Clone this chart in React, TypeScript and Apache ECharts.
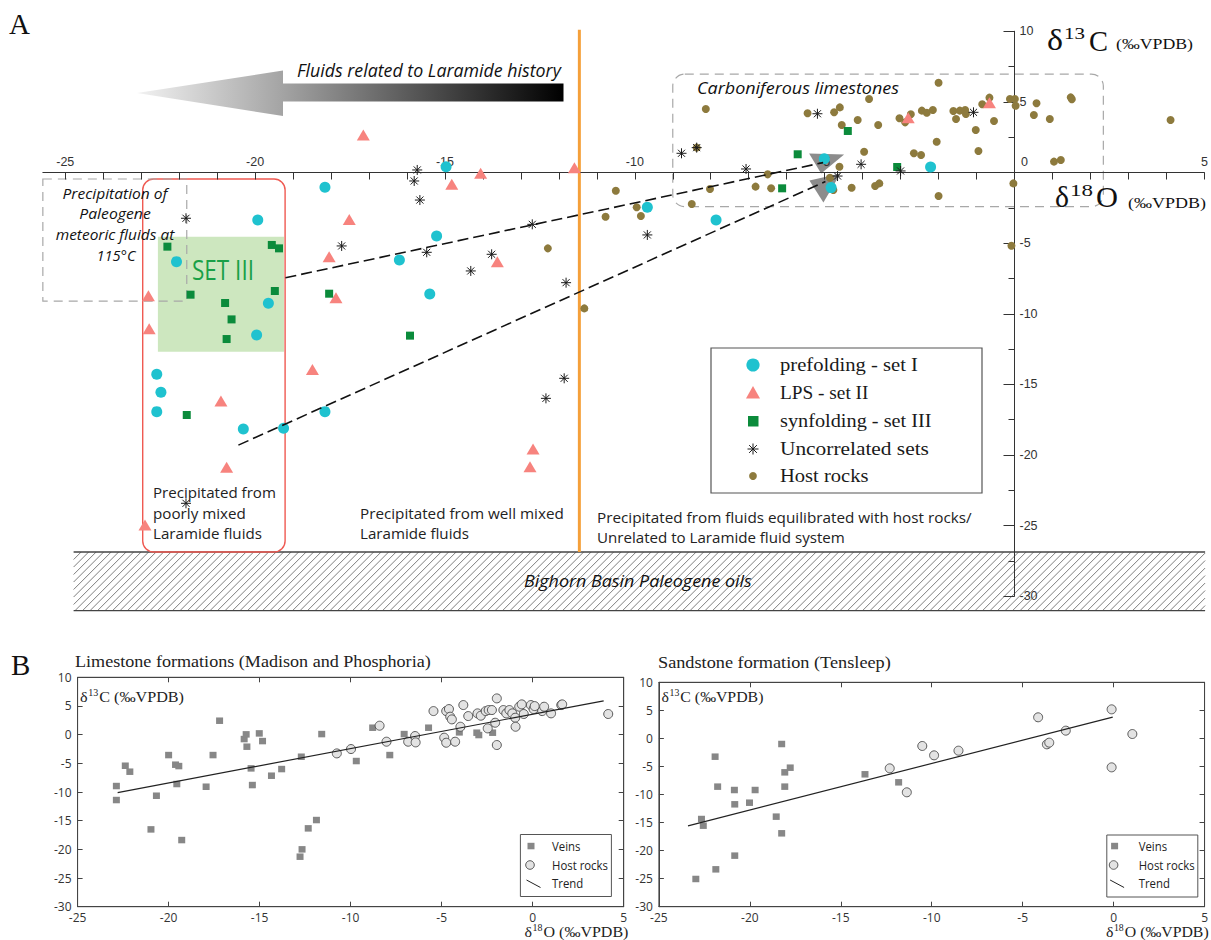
import React, { useEffect, useRef } from 'react';
import * as echarts from 'echarts';

// ---------------- Panel A data: [δ18O, δ13C] ----------------
const prefolding: number[][] = [
  [-18.16, -1.05], [-19.93, -3.36], [-22.07, -6.31], [-16.2, -6.19], [-19.65, -9.26], [-19.96, -11.5],
  [-15.4, -8.6], [-14.97, 0.41], [-15.22, -4.5], [-9.67, -2.46], [-22.59, -14.29], [-22.48, -15.56],
  [-22.59, -16.93], [-20.31, -18.16], [-19.25, -18.11], [-18.16, -16.93], [-5.01, 0.98], [-4.83, -1.07],
  [-2.21, 0.39], [-7.86, -3.36],
];
const lpsSet: number[][] = [
  [-17.15, 2.65], [-17.52, -3.32], [-18.05, -5.96], [-17.87, -8.86], [-22.81, -8.72], [-22.79, -11.06],
  [-14.06, -0.06], [-14.82, -0.84], [-11.59, 0.34], [-13.62, -6.31], [-18.49, -13.94], [-20.9, -16.18],
  [-20.75, -20.87], [-22.9, -24.96], [-12.68, -19.57], [-12.76, -20.83], [-2.8, 3.88], [-0.66, 4.94],
];
const synfolding: number[][] = [
  [-22.31, -5.25], [-19.56, -5.13], [-19.37, -5.37], [-21.7, -8.65], [-19.48, -8.39], [-20.79, -9.24],
  [-20.62, -10.4], [-20.75, -11.79], [-18.05, -8.58], [-15.92, -11.55], [-21.8, -17.17], [-5.71, 1.29],
  [-4.39, 2.94], [-6.12, -1.12], [-3.09, 0.39],
];
const uncorrelated: number[][] = [
  [-21.82, -3.24], [-17.72, -5.2], [-15.73, 0.18], [-15.81, -0.6], [-15.66, -1.95], [-15.48, -5.65],
  [-12.7, -3.67], [-13.77, -5.79], [-14.32, -6.97], [-11.81, -7.8], [-11.86, -14.57], [-12.34, -15.99],
  [-9.67, -4.42], [-21.82, -23.42], [-8.77, 1.36], [-8.37, 1.76], [-7.07, 0.25], [-5.19, 4.16],
  [-4.04, 0.58], [-4.66, -0.25], [-3.0, 0.11], [-1.08, 4.26],
];
const hostRocksA: number[][] = [
  [-10.5, -1.29], [-10.77, -3.13], [-9.95, -2.46], [-9.84, -3.08], [-12.29, -5.37], [-11.33, -9.62],
  [-8.13, 4.5], [-8.5, -2.23], [-8.02, -1.17], [-8.37, 1.76], [-6.5, -0.13], [-6.82, -1.0], [-6.41, -1.12],
  [-5.45, 4.19], [-4.75, 4.26], [-4.6, 4.61], [-4.55, 3.36], [-4.13, 3.72], [-3.83, 5.2], [-3.59, 3.36],
  [-3.96, 1.47], [-4.61, 0.41], [-4.86, -0.37], [-4.77, -1.24], [-4.29, -1.08], [-3.67, -0.96], [-3.56, -0.77],
  [-3.03, 3.84], [-2.88, 3.55], [-2.73, 4.12], [-2.44, 4.38], [-2.31, 4.23], [-2.15, 4.42], [-2.05, 2.18],
  [-2.65, 1.36], [-2.46, 1.24], [-2.0, -1.66], [-2.0, 6.35], [-1.61, 4.35], [-1.44, 4.38], [-1.3, 4.42],
  [-1.28, 4.14], [-1.54, 3.79], [-1.02, 3.01], [-0.95, 1.52], [-0.85, 4.83], [-0.66, 5.3], [-0.54, 3.65],
  [-0.12, 5.2], [0.01, 5.2], [0.03, 4.73], [-0.03, -0.77], [0.58, 4.9], [0.51, 4.07], [0.93, 3.79],
  [1.04, 0.77], [1.22, 0.88], [1.48, 5.32], [1.51, 5.18], [4.11, 3.72], [-0.08, -5.18],
];
const mixingLine1: number[][] = [[-19.2, -7.45], [-5.04, 0.7]];
const mixingLine2: number[][] = [[-20.44, -19.3], [-4.98, -0.64]];

// ---------------- Panel B data ----------------
const veinsLimestone: number[][] = [
  [-22.87, -8.96], [-22.87, -11.4], [-22.38, -5.42], [-22.13, -6.46], [-20.67, -10.65], [-20.97, -16.52],
  [-20.0, -3.56], [-19.62, -5.24], [-19.44, -5.48], [-19.55, -8.61], [-19.28, -18.38], [-17.94, -9.08],
  [-17.56, -3.56], [-17.2, 2.43], [-15.85, -0.77], [-15.74, 0.05], [-15.7, -2.1], [-15.47, -5.88],
  [-15.4, -8.79], [-15.02, 0.22], [-14.84, -1.12], [-14.35, -7.16], [-13.79, -6.0], [-12.71, -3.85],
  [-12.78, -21.28], [-12.67, -20.0], [-12.33, -16.34], [-11.88, -14.89], [-11.59, 0.1], [-9.69, -4.6],
  [-8.79, 1.21], [-7.85, -3.56], [-7.06, 0.1], [-5.72, 1.21], [-4.03, 0.4], [-3.07, 0.34], [-2.96, -0.07],
  [-2.2, 0.34],
];
const hostLimestone: number[][] = [
  [-10.76, -3.27], [-9.98, -2.51], [-8.41, 1.56], [-8.03, -1.23], [-6.84, -1.23], [-6.46, -0.24],
  [-6.43, -1.35], [-5.45, 4.11], [-4.75, 4.11], [-4.6, 4.46], [-4.53, 3.13], [-4.44, 2.66], [-4.86, -0.53],
  [-4.75, -1.41], [-4.26, -1.23], [-3.97, 1.38], [-3.81, 5.16], [-3.54, 3.24], [-3.03, 3.71], [-2.85, 3.3],
  [-2.58, 4.11], [-2.42, 4.29], [-2.24, 4.29], [-2.47, 1.09], [-2.06, 2.08], [-1.97, 6.32], [-1.97, -1.81],
  [-1.61, 4.29], [-1.45, 3.71], [-1.28, 4.29], [-1.12, 3.71], [-0.96, 2.95], [-0.94, 1.38], [-0.74, 4.87],
  [-0.6, 5.28], [-0.49, 3.6], [-0.1, 5.16], [0.05, 4.46], [0.11, 4.98], [0.52, 4.11], [0.63, 4.87],
  [1.01, 3.71], [1.57, 5.16], [1.62, 5.28], [4.15, 3.6],
];
const trendLimestone: number[][] = [[-22.8, -10.1], [3.9, 5.9]];

const veinsSandstone: number[][] = [
  [-22.97, -25.06], [-22.66, -14.37], [-22.56, -15.56], [-21.91, -3.26], [-21.77, -8.6], [-21.87, -23.34],
  [-20.85, -9.2], [-20.83, -11.75], [-20.83, -20.9], [-20.02, -11.46], [-19.71, -9.2], [-18.55, -13.95],
  [-18.25, -1.0], [-18.25, -16.92], [-18.08, -6.05], [-18.08, -8.6], [-17.78, -5.22], [-13.67, -6.4],
  [-11.82, -7.83],
];
const hostSandstone: number[][] = [
  [-12.31, -5.34], [-11.37, -9.61], [-10.52, -1.35], [-9.87, -3.02], [-8.53, -2.19], [-4.15, 3.76],
  [-3.67, -1.06], [-3.54, -0.76], [-2.63, 1.38], [-0.11, 5.18], [-0.11, -5.16], [1.03, 0.78],
];
const trendSandstone: number[][] = [[-23.4, -15.6], [-0.05, 3.8]];

// ---------------- Axis ranges & labels ----------------
const oxygenMin = -25;
const oxygenMax = 5;
const carbonMin = -30;
const carbonMax = 10;
const tickStep = 5;
const legendALabels = ['prefolding - set I', 'LPS - set II', 'synfolding - set III', 'Uncorrelated sets', 'Host rocks'];
const legendBLabels = ['Veins', 'Host rocks', 'Trend'];

// annotation regions in data coordinates [x0, y0, x1, y1]
const SET3_BOX = [-22.56, -4.55, -19.24, -12.69];
const LARAMIDE_BOX = [-22.96, -0.46, -19.21, -26.87];
const PALEOGENE_BOX = [-25.59, -0.46, -21.8, -9.1];
const CARBON_BOX = [-9.0, 6.97, 2.34, -2.42];
const OIL_BAND = [-24.78, -26.87, 5.02, -31.02];
const MIXING_FRONT = -11.46;

// ---------------- layout & styles ----------------
const GA = { left: 65.25, top: 31.25, width: 1139.1, height: 565 };
const SERIF = 'Liberation Serif, Times New Roman, serif';
const SANS = 'Open Sans, Liberation Sans, sans-serif';
const ARIAL = 'Liberation Sans, Arial, sans-serif';
const CYAN = '#1fc2cf';
const PINK = '#f7837e';
const GREEN = '#0b8b3b';
const STAR = '#1a1a1a';
const HOST = '#8d7a3d';
const VEIN_GRAY = '#878787';
const HOST_FILL = '#e3e3e3';
const HOST_EDGE = '#4a4a4a';
const ASTERISK = 'path://M5 0L5 10M0 5L10 5M1.46 1.46L8.54 8.54M1.46 8.54L8.54 1.46';

let measureCtx: CanvasRenderingContext2D | null = null;
function measure(text: string, font: string): number {
  if (!measureCtx) measureCtx = document.createElement('canvas').getContext('2d');
  if (!measureCtx) return text.length * 7;
  measureCtx.font = font;
  return measureCtx.measureText(text).width || 1;
}
function fontStr(size: number, family: string, italic = false) {
  return `${italic ? 'italic' : 'normal'} normal ${size}px ${family}`;
}
type TOpt = { size: number; family: string; italic?: boolean; color?: string; width?: number; scale?: number; align?: string };
function T(str: string, x: number, y: number, o: TOpt): any {
  const font = fontStr(o.size, o.family, o.italic);
  let sx = o.scale ?? 1;
  if (o.width) sx = o.width / measure(str, font);
  const align = o.align || 'left';
  return {
    type: 'text', x, y, scaleX: sx, silent: true,
    style: { text: str, x: 0, y: 0, font, fill: o.color || '#222', align, verticalAlign: 'middle', textAlign: align, textVerticalAlign: 'middle' },
  };
}
function deltaLabel(x: number, y: number, sup: string, rest: string, size: number, width: number): any {
  const big = fontStr(size, SERIF);
  const small = fontStr(size * 0.62, SERIF);
  const w1 = measure('δ', big);
  const w2 = measure(sup, small);
  const w3 = measure(rest, big);
  const s = width / (w1 + w2 + w3 + 1.5);
  const st = (text: string, tx: number, ty: number, font: string) => ({
    type: 'text', silent: true,
    style: { text, x: tx, y: ty, font, fill: '#222', align: 'left', verticalAlign: 'middle', textAlign: 'left', textVerticalAlign: 'middle' },
  });
  return {
    type: 'group', x, y, scaleX: s, silent: true,
    children: [st('δ', 0, 0, big), st(sup, w1 + 0.5, -size * 0.32, small), st(rest, w1 + w2 + 1.5, 0, big)],
  };
}
function asterisk(cx: number, cy: number, r: number): any {
  const d = r * 0.7071;
  const ln = (x1: number, y1: number, x2: number, y2: number) => ({
    type: 'line', silent: true, shape: { x1, y1, x2, y2 }, style: { stroke: STAR, lineWidth: 1 },
  });
  return {
    type: 'group', silent: true,
    children: [ln(cx, cy - r, cx, cy + r), ln(cx - r, cy, cx + r, cy), ln(cx - d, cy - d, cx + d, cy + d), ln(cx - d, cy + d, cx + d, cy - d)],
  };
}

function baseOption(): any {
  const tickColor = '#333';
  // place panel A axes through the origin (crossing axes)
  const zeroY = GA.top + (carbonMax / (carbonMax - carbonMin)) * GA.height;
  const zeroX = GA.left + ((0 - oxygenMin) / (oxygenMax - oxygenMin)) * GA.width;
  const xOffsetA = -(GA.top + GA.height - zeroY);
  const yOffsetA = -(zeroX - GA.left);

  const boxX = (gridIndex: number, pos: string, labels: boolean): any => ({
    gridIndex, type: 'value', position: pos, min: oxygenMin, max: oxygenMax, interval: tickStep,
    axisLine: { onZero: false, lineStyle: { color: '#444', width: 1 } },
    axisTick: { inside: true, length: 5, lineStyle: { color: '#444' } },
    axisLabel: { show: labels, margin: 5, fontSize: 12, fontFamily: SANS, color: '#333' },
    splitLine: { show: false },
  });
  const boxY = (gridIndex: number, pos: string, labels: boolean): any => ({
    gridIndex, type: 'value', position: pos, min: carbonMin, max: carbonMax, interval: tickStep,
    axisLine: { onZero: false, lineStyle: { color: '#444', width: 1 } },
    axisTick: { inside: true, length: 5, lineStyle: { color: '#444' } },
    axisLabel: { show: labels, margin: 6, fontSize: 12, fontFamily: SANS, color: '#333' },
    splitLine: { show: false },
  });
  return {
    animation: false,
    backgroundColor: '#ffffff',
    grid: [
      { ...GA, show: false },
      { left: 77.6, top: 677.3, width: 546.1, height: 229.4, show: true, borderColor: '#444', borderWidth: 1 },
      { left: 658.9, top: 682.3, width: 546.5, height: 224.4, show: true, borderColor: '#444', borderWidth: 1 },
    ],
    xAxis: [
      {
        gridIndex: 0, type: 'value', position: 'bottom', offset: xOffsetA,
        min: oxygenMin, max: oxygenMax, interval: tickStep,
        axisLine: { onZero: false, lineStyle: { color: tickColor, width: 1 } },
        axisTick: { show: true, inside: false, length: 7, lineStyle: { color: tickColor } },
        minorTick: { show: true, splitNumber: 5, length: 7, lineStyle: { color: tickColor } },
        axisLabel: {
          inside: true, margin: 4, fontSize: 12.5, fontFamily: ARIAL, color: '#333',
          formatter: (v: number) => (v === 0 ? '{z|0}' : String(v)),
          rich: { z: { padding: [0, 0, 0, 20], fontSize: 12.5, fontFamily: ARIAL, color: '#333' } },
        },
        splitLine: { show: false },
      },
      boxX(1, 'bottom', true),
      boxX(1, 'top', false),
      boxX(2, 'bottom', true),
      boxX(2, 'top', false),
    ],
    yAxis: [
      {
        gridIndex: 0, type: 'value', position: 'left', offset: yOffsetA,
        min: carbonMin, max: carbonMax, interval: tickStep,
        axisLine: { onZero: false, lineStyle: { color: tickColor, width: 1 } },
        axisTick: { show: true, inside: false, length: 11, lineStyle: { color: tickColor } },
        minorTick: { show: true, splitNumber: 2, length: 6, lineStyle: { color: tickColor } },
        axisLabel: {
          inside: true, margin: 5, fontSize: 12.5, fontFamily: ARIAL, color: '#333',
          formatter: (v: number) => (v === 0 ? '' : String(v)),
        },
        splitLine: { show: false },
      },
      boxY(1, 'left', true),
      boxY(1, 'right', false),
      boxY(2, 'left', true),
      boxY(2, 'right', false),
    ],
    series: [
      { type: 'scatter', name: legendALabels[4], xAxisIndex: 0, yAxisIndex: 0, data: hostRocksA, symbol: 'circle', symbolSize: 8, itemStyle: { color: HOST, opacity: 1 }, z: 3 },
      { type: 'scatter', name: legendALabels[0], xAxisIndex: 0, yAxisIndex: 0, data: prefolding, symbol: 'circle', symbolSize: 11, itemStyle: { color: CYAN, opacity: 1 }, z: 4 },
      { type: 'scatter', name: legendALabels[1], xAxisIndex: 0, yAxisIndex: 0, data: lpsSet, symbol: 'triangle', symbolSize: [13, 11], itemStyle: { color: PINK, opacity: 1 }, z: 4 },
      { type: 'scatter', name: legendALabels[2], xAxisIndex: 0, yAxisIndex: 0, data: synfolding, symbol: 'rect', symbolSize: 8, itemStyle: { color: GREEN, opacity: 1 }, z: 4 },
      { type: 'scatter', name: legendALabels[3], xAxisIndex: 0, yAxisIndex: 0, data: uncorrelated, symbol: ASTERISK, symbolSize: 10, itemStyle: { color: 'rgba(0,0,0,0)', borderColor: STAR, borderWidth: 1, opacity: 1 }, z: 5 },
      { type: 'line', xAxisIndex: 0, yAxisIndex: 0, data: mixingLine1, symbol: 'none', lineStyle: { color: '#111', width: 1.6, type: [11, 5] }, z: 6 },
      { type: 'line', xAxisIndex: 0, yAxisIndex: 0, data: mixingLine2, symbol: 'none', lineStyle: { color: '#111', width: 1.6, type: [11, 5] }, z: 6 },

      { type: 'scatter', name: legendBLabels[0], xAxisIndex: 1, yAxisIndex: 1, data: veinsLimestone, symbol: 'rect', symbolSize: [7, 6.5], itemStyle: { color: VEIN_GRAY, opacity: 1 }, z: 3 },
      { type: 'scatter', name: legendBLabels[1], xAxisIndex: 1, yAxisIndex: 1, data: hostLimestone, symbol: 'circle', symbolSize: 9, itemStyle: { color: HOST_FILL, borderColor: HOST_EDGE, borderWidth: 0.9, opacity: 1 }, z: 4 },
      { type: 'line', name: legendBLabels[2], xAxisIndex: 1, yAxisIndex: 1, data: trendLimestone, symbol: 'none', lineStyle: { color: '#222', width: 1.2 }, z: 5 },

      { type: 'scatter', name: legendBLabels[0], xAxisIndex: 3, yAxisIndex: 3, data: veinsSandstone, symbol: 'rect', symbolSize: [7, 6.5], itemStyle: { color: VEIN_GRAY, opacity: 1 }, z: 3 },
      { type: 'scatter', name: legendBLabels[1], xAxisIndex: 3, yAxisIndex: 3, data: hostSandstone, symbol: 'circle', symbolSize: 9, itemStyle: { color: HOST_FILL, borderColor: HOST_EDGE, borderWidth: 0.9, opacity: 1 }, z: 4 },
      { type: 'line', name: legendBLabels[2], xAxisIndex: 3, yAxisIndex: 3, data: trendSandstone, symbol: 'none', lineStyle: { color: '#222', width: 1.2 }, z: 5 },
    ],
  };
}

function buildGraphics(chart: any): any[] {
  const P = (x: number, y: number): number[] => chart.convertToPixel({ gridIndex: 0 }, [x, y]) as number[];
  const box = (b: number[]) => {
    const a = P(b[0], b[1]);
    const c = P(b[2], b[3]);
    return { x: Math.min(a[0], c[0]), y: Math.min(a[1], c[1]), width: Math.abs(c[0] - a[0]), height: Math.abs(c[1] - a[1]) };
  };
  const els: any[] = [];

  // SET III shaded area
  els.push({ type: 'rect', silent: true, shape: box(SET3_BOX), style: { fill: '#cde7bf' } });

  // hatched band (Bighorn Basin Paleogene oils)
  const band = box(OIL_BAND);
  const hx0 = band.x, hx1 = band.x + band.width, hy0 = band.y, hy1 = band.y + band.height;
  const H = band.height;
  const hatch: any[] = [];
  for (let c = hx0 - H; c < hx1; c += 7.5) {
    let xa = c, ya = hy1, xb = c + H, yb = hy0;
    if (xa < hx0) { ya = hy1 - (hx0 - xa); xa = hx0; }
    if (xb > hx1) { yb = hy0 + (xb - hx1); xb = hx1; }
    hatch.push({ type: 'line', silent: true, shape: { x1: xa, y1: ya, x2: xb, y2: yb }, style: { stroke: '#5e5e5e', lineWidth: 0.8 } });
  }
  els.push({ type: 'group', silent: true, children: hatch });
  els.push({ type: 'line', silent: true, shape: { x1: hx0, y1: hy0, x2: hx1, y2: hy0 }, style: { stroke: '#444', lineWidth: 1.4 } });
  els.push({ type: 'line', silent: true, shape: { x1: hx0, y1: hy1, x2: hx1, y2: hy1 }, style: { stroke: '#444', lineWidth: 1.4 } });

  // orange boundary line
  const o0 = P(MIXING_FRONT, 10.1);
  const o1 = P(MIXING_FRONT, LARAMIDE_BOX[3]);
  els.push({ type: 'line', silent: true, shape: { x1: o0[0], y1: o0[1], x2: o1[0], y2: o1[1] }, style: { stroke: '#f5a03a', lineWidth: 3 } });

  // red rounded box
  els.push({ type: 'rect', silent: true, shape: { ...box(LARAMIDE_BOX), r: 11 }, style: { fill: 'none', stroke: '#ef5a52', lineWidth: 1.4 } });
  // dashed gray boxes
  els.push({ type: 'rect', silent: true, shape: box(PALEOGENE_BOX), style: { fill: 'none', stroke: '#a8a8a8', lineWidth: 1.2, lineDash: [9, 6] } });
  els.push({ type: 'rect', silent: true, shape: { ...box(CARBON_BOX), r: 12 }, style: { fill: 'none', stroke: '#a8a8a8', lineWidth: 1.2, lineDash: [9, 6] } });

  // x axis small extension on the left
  const e0 = P(-25.6, 0), e1 = P(oxygenMin, 0);
  els.push({ type: 'line', silent: true, shape: { x1: e0[0], y1: e0[1], x2: e1[0], y2: e1[1] }, style: { stroke: '#333', lineWidth: 1 } });

  // gradient arrow
  els.push({
    type: 'polygon', silent: true,
    shape: { points: [[137, 93], [283, 70.5], [283, 83.5], [563.5, 83.5], [563.5, 101.5], [283, 101.5], [283, 116]] },
    style: {
      fill: { type: 'linear', x: 0, y: 0, x2: 1, y2: 0, colorStops: [{ offset: 0, color: '#f2f2f2' }, { offset: 0.34, color: '#a4a4a4' }, { offset: 1, color: '#000000' }] },
    },
  });

  // arrowheads at the ends of the mixing lines
  const a1 = P(mixingLine1[1][0], mixingLine1[1][1]);
  const a2 = P(mixingLine2[1][0], mixingLine2[1][1]);
  els.push({ type: 'polygon', silent: true, shape: { points: [[a1[0] - 14, a1[1] - 9], [a1[0] + 21, a1[1] - 8], [a1[0] - 2, a1[1] + 11]] }, style: { fill: '#8c8c8c' } });
  els.push({ type: 'polygon', silent: true, shape: { points: [[a2[0] - 16, a2[1] - 1], [a2[0] + 15, a2[1] - 8], [a2[0] - 2, a2[1] + 21]] }, style: { fill: '#8c8c8c' } });

  // ---------------- texts panel A ----------------
  els.push(T('A', 9, 24, { size: 29, family: SERIF, color: '#111' }));
  els.push(T('Fluids related to Laramide history', 297, 70, { size: 18, family: SANS, italic: true, width: 264, color: '#111' }));
  els.push(T('Carboniferous limestones', 697, 87, { size: 17, family: SANS, italic: true, width: 202, color: '#111' }));
  els.push(T('Precipitation of', 115, 193, { size: 15, family: SANS, italic: true, width: 105, align: 'center', color: '#111' }));
  els.push(T('Paleogene', 115, 213.5, { size: 15, family: SANS, italic: true, width: 71.5, align: 'center', color: '#111' }));
  els.push(T('meteoric fluids at', 115, 234.5, { size: 15, family: SANS, italic: true, width: 118.6, align: 'center', color: '#111' }));
  els.push(T('115°C', 116, 255, { size: 15, family: SANS, italic: true, width: 39, align: 'center', color: '#111' }));
  els.push(T('SET III', 192, 269, { size: 27, family: SANS, width: 62, color: '#19a047' }));
  els.push(T('Precipitated from', 153, 492, { size: 15, family: SANS, width: 123 }));
  els.push(T('poorly mixed', 153, 512.7, { size: 15, family: SANS, width: 93 }));
  els.push(T('Laramide fluids', 153, 533.3, { size: 15, family: SANS, width: 109 }));
  els.push(T('Precipitated from well mixed', 360, 512.7, { size: 15, family: SANS, width: 204 }));
  els.push(T('Laramide fluids', 360, 533.3, { size: 15, family: SANS, width: 109 }));
  els.push(T('Precipitated from fluids equilibrated with host rocks/', 597, 517, { size: 15, family: SANS, width: 375 }));
  els.push(T('Unrelated to Laramide fluid system', 597, 537.5, { size: 15, family: SANS, width: 248 }));
  els.push(T('Bighorn Basin Paleogene oils', 524, 580, { size: 17, family: SANS, italic: true, width: 228, color: '#111' }));
  // axis titles panel A
  els.push(T('δ', 1047, 40, { size: 30, family: SERIF, width: 16, color: '#111' }));
  els.push(T('13', 1064, 33, { size: 17, family: SERIF, width: 21, color: '#111' }));
  els.push(T('C', 1089, 41, { size: 29, family: SERIF, width: 19, color: '#111' }));
  els.push(T('(‰VPDB)', 1116, 44, { size: 15, family: SERIF, width: 77, color: '#111' }));
  els.push(T('δ', 1055, 196, { size: 30, family: SERIF, width: 14, color: '#111' }));
  els.push(T('18', 1070, 190, { size: 17, family: SERIF, width: 23, color: '#111' }));
  els.push(T('O', 1096, 197, { size: 30, family: SERIF, width: 22, color: '#111' }));
  els.push(T('(‰VPDB)', 1128, 203, { size: 15, family: SERIF, width: 78, color: '#111' }));

  // legend panel A
  els.push({ type: 'rect', silent: true, shape: { x: 711, y: 348, width: 271, height: 145 }, style: { fill: '#fff', stroke: '#555', lineWidth: 1.2 } });
  els.push({ type: 'circle', silent: true, shape: { cx: 753, cy: 365, r: 6.6 }, style: { fill: CYAN } });
  els.push({ type: 'polygon', silent: true, shape: { points: [[753, 386], [760, 398.5], [746, 398.5]] }, style: { fill: PINK } });
  els.push({ type: 'rect', silent: true, shape: { x: 748, y: 416, width: 10.5, height: 10.5 }, style: { fill: GREEN } });
  els.push(asterisk(753, 449, 5.5));
  els.push({ type: 'circle', silent: true, shape: { cx: 753, cy: 476, r: 3.9 }, style: { fill: HOST } });
  const legendAW = [138, 88.5, 151.7, 149, 88.5];
  legendALabels.forEach((s, i) => {
    els.push(T(s, 780, 365 + i * 27.8, { size: 18, family: SERIF, width: legendAW[i], color: '#1a1a1a' }));
  });

  // ---------------- panel B texts ----------------
  els.push(T('B', 11, 665, { size: 29, family: SERIF, color: '#111' }));
  els.push(T('Limestone formations (Madison and Phosphoria)', 75, 661, { size: 17, family: SERIF, width: 356 }));
  els.push(T('Sandstone formation (Tensleep)', 658, 662, { size: 17, family: SERIF, width: 233 }));
  els.push(deltaLabel(80, 697, '13', 'C (‰VPDB)', 15, 104));
  els.push(deltaLabel(661.5, 697, '13', 'C (‰VPDB)', 15, 102));
  els.push(deltaLabel(524.5, 932, '18', 'O (‰VPDB)', 15, 104));
  els.push(deltaLabel(1106, 932, '18', 'O (‰VPDB)', 15, 102.7));

  // legends panel B
  const legendB = (bx: number, by: number, mx: number, tx: number) => {
    els.push({ type: 'rect', silent: true, shape: { x: bx, y: by, width: 91, height: 62 }, style: { fill: '#fff', stroke: '#555', lineWidth: 1 } });
    els.push({ type: 'rect', silent: true, shape: { x: mx - 3.5, y: 842.8, width: 7, height: 6.5 }, style: { fill: VEIN_GRAY } });
    els.push({ type: 'circle', silent: true, shape: { cx: mx - 1, cy: 865, r: 4.3 }, style: { fill: HOST_FILL, stroke: HOST_EDGE, lineWidth: 0.9 } });
    els.push({ type: 'line', silent: true, shape: { x1: mx - 4.5, y1: 880, x2: mx + 9.5, y2: 887.5 }, style: { stroke: '#222', lineWidth: 1 } });
    const sc = 56 / measure('Host rocks', fontStr(12.5, SANS));
    legendBLabels.forEach((s, i) => {
      els.push(T(s, tx, [846.5, 865.3, 883.3][i], { size: 12.5, family: SANS, scale: sc }));
    });
  };
  legendB(520.4, 834.5, 531, 552);
  legendB(1106.8, 835, 1114.6, 1138.7);

  return els;
}

export default function App() {
  const ref = useRef<HTMLDivElement>(null);
  useEffect(() => {
    document.body.style.margin = '0';
    document.body.style.overflow = 'hidden';
    if (!ref.current) return;
    const chart = echarts.init(ref.current, null, { renderer: 'svg' });
    chart.setOption(baseOption());
    chart.setOption({ graphic: buildGraphics(chart) });
    return () => chart.dispose();
  }, []);
  return <div ref={ref} style={{ width: 1211, height: 940, background: '#fff' }} />;
}
